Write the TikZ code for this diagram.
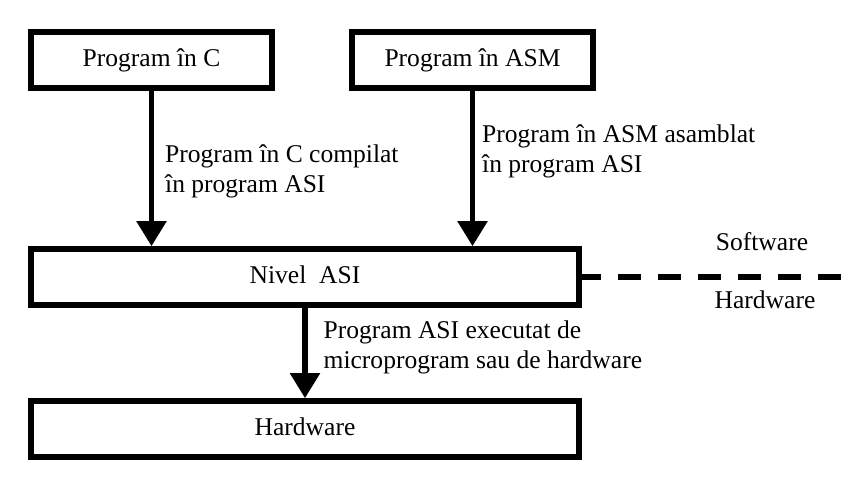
\documentclass[tikz,border=0pt]{standalone}
\usepackage{fontspec}
\setmainfont{Liberation Serif}
\usepackage{tikz}
\usetikzlibrary{arrows.meta,positioning}

\begin{document}
\begin{tikzpicture}[
    x=0.03cm, y=-0.03cm,
    every node/.style={font=\fontsize{21.8pt}{25.5pt}\selectfont},
    prog/.style  ={rectangle,draw=black,line width=0.17cm,fill=white,
                   minimum width=7.23cm,minimum height=1.68cm,
                   text height=0.53cm,text depth=0.17cm},
    level/.style ={rectangle,draw=black,line width=0.17cm,fill=white,
                   minimum width=16.44cm,minimum height=1.68cm,
                   text height=0.53cm,text depth=0.17cm},
    lbl/.style   ={inner sep=0pt,align=left,anchor=west},
    arr/.style   ={-{Triangle[length=0.75cm,width=0.87cm]},line width=0.16cm},
    sep/.style   ={line width=0.17cm,dash pattern=on 0.69cm off 0.51cm,
                   dash phase=0.12cm},
  ]
  \useasboundingbox (0,0) rectangle (853,494);

  % Top: source programs
  \node[prog] (C)   at (151.5,60) {Program în C};
  \node[prog] (ASM) at (472.5,60) {Program în ASM};

  % Middle and bottom levels
  \node[level] (ASI) at (305,277) {Nivel\ \ ASI};
  \node[level] (HW)  at (305,429) {Hardware};

  % Translation arrows
  \draw[arr] (C) -- node[lbl,pos=0.52,xshift=0.33cm]
    {Program în C compilat\\în program ASI} (C |- ASI.north);
  \draw[arr] (ASM) -- node[lbl,pos=0.39,xshift=0.21cm]
    {Program în ASM asamblat\\în program ASI} (ASM |- ASI.north);
  \draw[arr] (ASI) -- node[lbl,pos=0.44,xshift=0.48cm]
    {Program ASI executat de\\microprogram sau de hardware} (HW);

  % Software / hardware boundary
  \coordinate (bound) at (845,277);
  \draw[sep] (ASI.east) -- (bound);
  \node[anchor=base] (sw) at (762,250) {Software};
  \node[anchor=base] (hwl) at (765,308) {Hardware};
\end{tikzpicture}
\end{document}
